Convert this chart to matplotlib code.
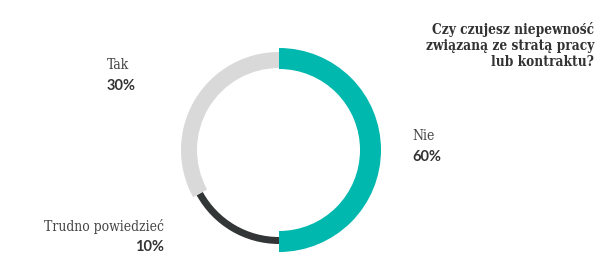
import matplotlib
matplotlib.use("Agg")
import matplotlib.pyplot as plt

# answers, labelled percentages and arc shares as drawn in the picture
labels = ["Nie", "Trudno powiedzieć", "Tak"]
percents = [60, 10, 30]
arc_shares = [50, 17, 33]
colors = ["#00b8ae", "#333636", "#d9d9d9"]
title = "Czy czujesz niepewność\nzwiązaną ze stratą pracy\nlub kontraktu?"

W, H = 616, 275
fig = plt.figure(figsize=(W / 100, H / 100), dpi=100)
ax = fig.add_axes([0, 0, 1, 1])

center = (279, H - 150)
# ring radius / width per answer
rings = [(102, 21), (94, 7), (98, 16)]

for i, (r, w) in enumerate(rings):
    cols = ["none"] * len(arc_shares)
    cols[i] = colors[i]
    ax.pie(arc_shares, colors=cols, radius=r, center=center,
           startangle=90, counterclock=False,
           wedgeprops=dict(width=w, linewidth=0), frame=True)

ax.set_xlim(0, W)
ax.set_ylim(0, H)
ax.set_aspect("equal")
ax.axis("off")

serif = "DejaVu Serif"
sans = "Lato"

ax.text(594, H - 22, title, ha="right", va="top", fontsize=9.8,
        fontweight="bold", family=serif, fontstretch="condensed",
        color="#333333", linespacing=1.2)

# label positions (x, y of name line, alignment)
pos = {"Nie": (412, 136, "left"),
       "Trudno powiedzieć": (164, 226, "right"),
       "Tak": (107, 65, "left")}

for lab, p in zip(labels, percents):
    x, y, ha = pos[lab]
    ax.text(x, H - y, lab, ha=ha, va="center", fontsize=10, family=serif,
            fontstretch="condensed", color="#444444")
    ax.text(x, H - y - 21, f"{p}%", ha=ha, va="center", fontsize=10.5,
            fontweight="bold", family=sans, color="#333333")

fig.savefig("out.png", dpi=100)
